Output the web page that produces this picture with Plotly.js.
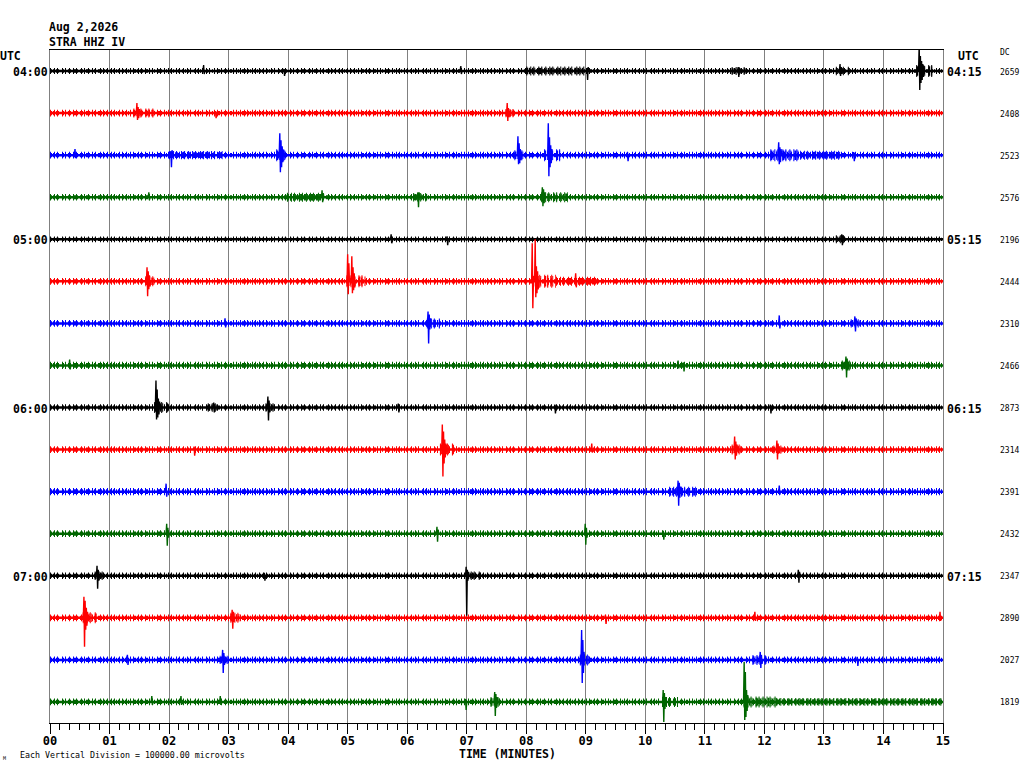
<!DOCTYPE html>
<html>
<head>
<meta charset="utf-8">
<script src="https://cdn.plot.ly/plotly-3.0.1.min.js"></script>
<style>html,body{margin:0;padding:0;background:#fff;}#chart{width:1024px;height:768px;}</style>
</head>
<body>
<div id="chart"></div>
<script>
// ---------------- data ----------------
const titleLines = ['Aug 2,2026', 'STRA HHZ IV'];
const traceColors = ['#000000', '#ff0000', '#0000ff', '#006600'];
const hourRows = [0, 4, 8, 12];
const startLabels = ['04:00', '05:00', '06:00', '07:00'];
const endLabels = ['04:15', '05:15', '06:15', '07:15'];
const dcValues = [2659, 2408, 2523, 2576, 2196, 2444, 2310, 2466, 2873, 2314, 2391, 2432, 2347, 2890, 2027, 1819];
// background noise half-width of each line, in pixels
const noiseHalfWidth = [3.0, 3.3, 3.3, 3.3, 2.9, 3.3, 3.3, 3.6, 3.3, 3.4, 3.6, 3.4, 3.3, 3.4, 3.4, 3.4];
// noisy stretches: [row, start minute, end minute, half-width px]
const bursts = [
  [0, 8.0, 9.0, 4.5], [0, 11.45, 11.7, 4], [0, 13.2, 13.45, 4.2], [0, 14.55, 14.85, 6],
  [1, 1.4, 1.75, 4.5], [1, 7.65, 7.85, 4.2],
  [2, 2.0, 2.9, 4.2], [2, 3.8, 4.0, 6], [2, 7.8, 7.95, 5], [2, 8.3, 8.6, 6], [2, 12.1, 12.6, 6], [2, 12.6, 13.3, 4.5],
  [3, 3.98, 4.55, 4.5], [3, 6.1, 6.35, 4.2], [3, 8.25, 8.7, 5],
  [4, 13.2, 13.4, 4],
  [5, 1.6, 1.8, 5], [5, 4.98, 5.3, 6], [5, 8.1, 8.5, 6.5], [5, 8.5, 9.2, 4.5],
  [6, 6.33, 6.55, 5], [6, 13.45, 13.65, 4.2],
  [7, 13.3, 13.5, 5],
  [8, 1.75, 2.0, 5.5], [8, 2.65, 2.85, 4.2], [8, 3.62, 3.78, 4.2],
  [9, 6.55, 6.8, 6], [9, 11.45, 11.65, 5], [9, 12.15, 12.3, 4.2],
  [10, 10.4, 10.85, 5],
  [12, 0.75, 0.95, 4.2], [12, 7.0, 7.25, 4.2],
  [13, 0.55, 0.8, 5.5], [13, 3.03, 3.2, 5],
  [14, 2.85, 3.0, 4.2], [14, 8.9, 9.05, 5.5], [14, 11.8, 12.05, 5],
  [15, 7.4, 7.6, 5], [15, 10.28, 10.55, 5], [15, 11.65, 12.2, 5.5], [15, 12.2, 15.0, 3.9]
];
// events: [row, onset minute, successive peak amplitudes in px (+ up, - down)]
const events = [
  [0, 2.58, [6, -3]], [0, 3.93, [2, -5]], [0, 6.9, [5, -3]], [0, 9.02, [3, -9, 4]], [0, 11.56, [4, -6, 3]],
  [0, 13.27, [7, -5, 4]], [0, 14.6, [26, -19, 15, -12, 10, -9, 7, -6, 5]],
  [1, 1.46, [10, -7, 6, -5, 4]], [1, 2.78, [2, -5]], [1, 7.68, [10, -8, 5, -4]],
  [2, 0.42, [6, -3]], [2, 2.03, [4, -12, 5]], [2, 3.86, [22, -17, 15, -12, 9, -7, 5]], [2, 7.86, [19, -9, 12, -8, 6, -5]],
  [2, 8.37, [32, -21, 18, -12, 10, -8, 6]], [2, 9.7, [3, -6]], [2, 12.24, [13, -9, 8, -7, 6]], [2, 13.5, [3, -6]],
  [3, 1.66, [5, -3]], [3, 4.57, [7, -5, 4]], [3, 6.18, [5, -10, 5]], [3, 8.27, [10, -9, 8, -6, 5]],
  [4, 5.73, [5, -4]], [4, 6.67, [3, -6]], [4, 13.3, [5, -6, 4]],
  [5, 1.63, [14, -15, 10, -8, 6, -5]], [5, 5.0, [27, -13, 18]], [5, 5.07, [25, -12, 14, -9, 8, -6]],
  [5, 8.1, [38, -27]], [5, 8.15, [42, -16, 15, -12, 10, -8]], [5, 8.83, [8, -6]],
  [6, 2.94, [5, -4]], [6, 6.35, [12, -20, 9, -6, 5]], [6, 12.25, [8, -5]], [6, 13.52, [7, -8, 5]],
  [7, 0.33, [6, -4]], [7, 10.55, [5, -3]], [7, 10.64, [3, -6]], [7, 13.37, [9, -12, 7, -5]],
  [8, 1.78, [27, -12, 18, -10, 9, -7, 6]], [8, 2.75, [5, -5]], [8, 3.66, [11, -13, 7, -5]], [8, 5.85, [4, -5]],
  [8, 8.48, [3, -6]], [8, 12.1, [3, -6]],
  [9, 2.42, [3, -6]], [9, 6.59, [25, -27, 18, -14, 10, -8, 6]], [9, 9.1, [6, -3]], [9, 11.5, [13, -10, 8, -6, 5]],
  [9, 12.21, [9, -10, 6, -4]],
  [10, 1.95, [8, -5]], [10, 10.55, [11, -14, 9, -6, 5]], [10, 12.25, [6, -3]],
  [11, 1.96, [10, -12, 6, -4]], [11, 6.5, [7, -8, 4]], [11, 8.99, [10, -11, 6, -4]], [11, 10.3, [3, -6]],
  [12, 0.79, [10, -13, 6, -5]], [12, 3.6, [3, -5]], [12, 6.99, [9, -40, 6, -5, 4]], [12, 12.57, [6, -7, 4]],
  [13, 0.57, [21, -29, 17, -12, 10, -8, 6]], [13, 3.06, [8, -11, 6, -4]], [13, 9.33, [3, -6]], [13, 11.84, [6, -3]],
  [13, 14.95, [6, -3]],
  [14, 1.3, [5, -5]], [14, 2.9, [10, -13, 7, -5]], [14, 8.93, [30, -23, 20, -13, 8]], [14, 11.93, [8, -8, 5, -4]],
  [14, 13.56, [3, -6]],
  [15, 1.71, [6, -3]], [15, 2.2, [6, -3]], [15, 2.86, [6, -3]], [15, 6.98, [3, -8]], [15, 7.47, [10, -14, 8, -6, 5]],
  [15, 10.3, [12, -20, 9, -7, 5]], [15, 11.66, [40, -18, 30, -15, 12, -9, 7]]
];
const xAxisTitle = 'TIME (MINUTES)';
const scaleNote = 'Each Vertical Division = 100000.00 microvolts';

// ---------------- build ----------------
const NROWS = dcValues.length;
const PLOT_L = 50, PLOT_R = 943, PLOT_T = 50, PLOT_B = 723;
const PX_PER_UNIT = (PLOT_B - PLOT_T) / NROWS;
const STEP = 0.01; // minutes between successive peaks of an event
const CORE_WIDTH = 2.5;
// line textures (styles) giving the dense, fuzzy look of the traces
const TEXTURE_OUTER = '1px,3px,1px,2px,1px,4px,1px,2px,1px,3px';
const TEXTURE_INNER = '2px,1px,1px,2px,1px,1px,1px,3px';
const colorOf = r => traceColors[r % traceColors.length];
const center = r => r + 0.5;
const paperX = px => (px - PLOT_L) / (PLOT_R - PLOT_L);
const paperY = py => (PLOT_B - py) / (PLOT_B - PLOT_T);

const traces = [];
const band = (r, t0, t1, hw) => {
  traces.push({x: [t0, t1], y: [center(r), center(r)], mode: 'lines', hoverinfo: 'skip',
    line: {color: colorOf(r), width: 2 * hw, dash: TEXTURE_OUTER}});
  traces.push({x: [t0, t1], y: [center(r), center(r)], mode: 'lines', hoverinfo: 'skip',
    line: {color: colorOf(r), width: 2 * hw - 2.5, dash: TEXTURE_INNER}});
};
for (let r = 0; r < NROWS; r++) {
  traces.push({x: [0, 15], y: [center(r), center(r)], mode: 'lines', hoverinfo: 'skip',
    line: {color: colorOf(r), width: CORE_WIDTH}});
  band(r, 0, 15, noiseHalfWidth[r]);
}
bursts.forEach(([r, t0, t1, hw]) => band(r, t0, t1, hw));
for (let r = 0; r < NROWS; r++) {
  const xs = [], ys = [];
  events.filter(e => e[0] === r).forEach(([, t, amps]) => {
    xs.push(t - STEP); ys.push(center(r));
    amps.forEach((a, k) => { xs.push(t + k * STEP); ys.push(center(r) - a / PX_PER_UNIT); });
    xs.push(t + amps.length * STEP); ys.push(center(r));
    xs.push(null); ys.push(null);
  });
  traces.push({x: xs, y: ys, mode: 'lines', hoverinfo: 'skip', cliponaxis: false, connectgaps: false,
    line: {color: colorOf(r), width: 1.4}});
}

const MONO = 'DejaVu Sans Mono, Liberation Mono, monospace';
const bold = (size) => ({family: MONO, size: size, color: '#000', weight: 'bold'});
const plain = (size) => ({family: MONO, size: size, color: '#000'});
const ann = [];
const addPx = (text, px, py, xanchor, font) => ann.push({text, xref: 'paper', yref: 'paper', x: paperX(px), y: paperY(py),
  xanchor, yanchor: 'middle', showarrow: false, font, borderpad: 0});

addPx(titleLines[0], 48, 27, 'left', bold(11.5));
addPx(titleLines[1], 48, 42, 'left', bold(11.5));
addPx('UTC', -1, 56, 'left', bold(11.5));
addPx('UTC', 957, 56, 'left', bold(11.5));
addPx('DC', 999, 53, 'left', plain(8));
hourRows.forEach((r, i) => {
  ann.push({text: startLabels[i], xref: 'paper', yref: 'y', x: paperX(49), y: center(r), yshift: -1,
    xanchor: 'right', yanchor: 'middle', showarrow: false, font: bold(11.5), borderpad: 0});
  ann.push({text: endLabels[i], xref: 'paper', yref: 'y', x: paperX(946), y: center(r), yshift: -1,
    xanchor: 'left', yanchor: 'middle', showarrow: false, font: bold(11.5), borderpad: 0});
});
dcValues.forEach((v, r) => {
  ann.push({text: String(v), xref: 'paper', yref: 'y', x: paperX(999), y: center(r), yshift: -1,
    xanchor: 'left', yanchor: 'middle', showarrow: false, font: plain(8), borderpad: 0});
});
addPx(xAxisTitle, 508, 753.5, 'center', bold(11.5));
addPx(scaleNote, 19, 755, 'left', plain(8.3));
addPx('M', 2, 758, 'left', plain(5));

const layout = {
  width: 1024, height: 768,
  margin: {l: PLOT_L, r: 1024 - PLOT_R, t: PLOT_T, b: 768 - PLOT_B, pad: 0},
  paper_bgcolor: '#fff', plot_bgcolor: '#fff', showlegend: false,
  xaxis: {range: [0, 15], tick0: 0, dtick: 1, tickformat: '02d', showgrid: true, gridcolor: '#808080', gridwidth: 1,
    zeroline: false, showline: true, linecolor: '#000', linewidth: 1, mirror: true,
    ticks: 'outside', ticklen: 10, tickcolor: '#000', tickwidth: 1, tickfont: bold(12), ticklabelstandoff: -3,
    minor: {dtick: 1 / 6, ticks: 'outside', ticklen: 6, tickcolor: '#000', tickwidth: 1, showgrid: false},
    fixedrange: true},
  yaxis: {range: [NROWS, 0], showgrid: false, zeroline: false, showticklabels: false, ticks: '',
    showline: true, linecolor: '#808080', linewidth: 1, mirror: true, fixedrange: true},
  annotations: ann
};
Plotly.newPlot('chart', traces, layout, {staticPlot: true, displayModeBar: false});
</script>
</body>
</html>
